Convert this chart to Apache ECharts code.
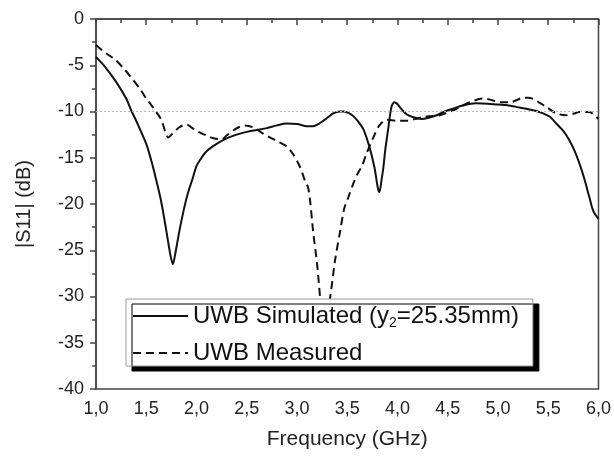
<!DOCTYPE html>
<html>
<head>
<meta charset="utf-8">
<script src="https://cdn.jsdelivr.net/npm/echarts@6/dist/echarts.min.js"></script>
<style>html,body{margin:0;padding:0;background:#fff;}#c{width:614px;height:457px;}</style>
</head>
<body>
<div id="c"></div>
<script>
var xTicks = [1.0,1.5,2.0,2.5,3.0,3.5,4.0,4.5,5.0,5.5,6.0];
var yTicks = [0,-5,-10,-15,-20,-25,-30,-35,-40];
var refLevel = -10;

var freqSim = [1.0,1.1,1.2,1.3,1.355,1.4,1.5,1.55,1.59,1.646,1.70,1.74,1.765,1.79,1.83,1.87,1.91,1.96,2.0,2.05,2.1,2.2,2.3,2.4,2.5,2.6,2.7,2.8,2.9,3.0,3.1,3.16,3.22,3.3,3.36,3.43,3.47,3.52,3.56,3.61,3.66,3.72,3.77,3.805,3.82,3.84,3.86,3.88,3.91,3.94,3.97,4.0,4.02,4.09,4.15,4.24,4.3,4.39,4.47,4.55,4.65,4.78,4.9,5.0,5.08,5.18,5.28,5.38,5.45,5.52,5.58,5.65,5.71,5.76,5.81,5.86,5.91,5.95,6.0];
var s11Sim = [-4.1,-5.3,-6.8,-8.6,-10.0,-11.0,-13.5,-15.3,-17.0,-19.6,-22.9,-25.5,-26.5,-25.3,-22.9,-20.8,-19.0,-17.3,-15.9,-15.0,-14.3,-13.5,-12.9,-12.5,-12.2,-12.0,-11.8,-11.5,-11.3,-11.35,-11.6,-11.6,-11.3,-10.7,-10.2,-10.0,-10.0,-10.2,-10.5,-11.1,-11.9,-13.8,-16.0,-18.3,-18.7,-17.5,-16.0,-14.0,-11.7,-9.5,-9.0,-9.2,-9.5,-10.3,-10.6,-10.8,-10.7,-10.4,-10.0,-9.7,-9.35,-9.1,-9.15,-9.25,-9.3,-9.5,-9.7,-9.95,-10.2,-10.6,-11.3,-12.1,-13.1,-14.2,-15.6,-17.3,-19.3,-20.8,-21.6];

var freqMeas = [1.0,1.04,1.1,1.19,1.28,1.37,1.44,1.5,1.55,1.59,1.65,1.69,1.72,1.76,1.83,1.9,1.96,2.02,2.1,2.17,2.25,2.3,2.36,2.42,2.48,2.56,2.65,2.73,2.82,2.9,2.96,3.03,3.08,3.11,3.13,3.16,3.2,3.23,3.27,3.3,3.33,3.38,3.43,3.47,3.51,3.56,3.6,3.65,3.69,3.76,3.82,3.89,4.0,4.1,4.18,4.25,4.33,4.42,4.55,4.64,4.72,4.85,4.95,5.02,5.12,5.2,5.25,5.3,5.36,5.42,5.48,5.58,5.68,5.75,5.81,5.91,5.96,6.0];
var s11Meas = [-2.8,-3.2,-3.7,-4.4,-5.4,-6.6,-7.6,-8.6,-9.3,-9.9,-10.9,-12.2,-12.8,-12.4,-11.7,-11.4,-11.8,-12.2,-12.6,-12.9,-13.0,-12.6,-12.1,-11.7,-11.5,-11.7,-12.3,-12.8,-13.3,-13.8,-14.6,-16.0,-17.5,-18.2,-19.6,-22.9,-26.5,-30.1,-34.0,-32.0,-30.1,-26.0,-22.9,-20.5,-19.3,-17.8,-16.8,-15.8,-14.6,-12.8,-11.5,-10.9,-11.0,-11.0,-10.8,-10.6,-10.5,-10.4,-9.9,-9.4,-9.0,-8.6,-8.8,-9.0,-9.0,-8.7,-8.5,-8.5,-8.7,-9.1,-9.5,-10.2,-10.4,-10.25,-10.05,-10.05,-10.4,-10.8];

var nameSim = 'UWB Simulated (y2=25.35mm)';
var nameMeas = 'UWB Measured';

function pairs(xs, ys){ return xs.map(function(x,i){ return [x, ys[i]]; }); }

var FONT = '"Liberation Sans", Arial, sans-serif';
var chart = echarts.init(document.getElementById('c'), null, {renderer:'canvas'});
chart.setOption({
  animation: false,
  backgroundColor: '#fff',
  textStyle: {fontFamily: FONT},
  grid: {left: 96, right: 15, top: 19, bottom: 68, show: true, borderColor: '#444', borderWidth: 1.5, backgroundColor: 'transparent'},
  xAxis: {
    type: 'value', min: xTicks[0], max: xTicks[xTicks.length-1], interval: 0.5,
    name: 'Frequency (GHz)', nameLocation: 'middle', nameGap: 40,
    nameTextStyle: {fontSize: 21, color: '#222', fontFamily: FONT},
    axisLine: {lineStyle: {color: '#444', width: 1.5}},
    axisTick: {show: true, inside: false, length: 6, lineStyle: {color: '#444', width: 1.5}},
    minorTick: {show: true, splitNumber: 2, length: 4, lineStyle: {color: '#444', width: 1.5}},
    splitLine: {show: false},
    axisLabel: {fontSize: 18, color: '#222', margin: 11, fontFamily: FONT,
      formatter: function(v){ return v.toFixed(1).replace('.', ','); }}
  },
  yAxis: {
    type: 'value', min: yTicks[yTicks.length-1], max: yTicks[0], interval: 5,
    name: '|S11| (dB)', nameLocation: 'middle', nameGap: 62,
    nameTextStyle: {fontSize: 20, color: '#222', fontFamily: FONT},
    axisLine: {show: true, lineStyle: {color: '#444', width: 1.5}},
    axisTick: {show: true, inside: false, length: 6, lineStyle: {color: '#444', width: 1.5}},
    minorTick: {show: true, splitNumber: 2, length: 4, lineStyle: {color: '#444', width: 1.5}},
    splitLine: {show: false},
    axisLabel: {fontSize: 18, color: '#222', margin: 12, fontFamily: FONT}
  },
  legend: {
    orient: 'vertical', left: 126, top: 299,
    padding: [3, 14, 0, 6], itemGap: 10,
    itemWidth: 55, itemHeight: 14,
    backgroundColor: '#fff', borderColor: '#999', borderWidth: 1,
    shadowColor: '#000', shadowBlur: 0, shadowOffsetX: 6, shadowOffsetY: 5,
    itemStyle: {opacity: 0},
    data: [nameSim, nameMeas],
    formatter: function(n){ return n === nameSim ? 'UWB Simulated (y{sub|2}=25.35mm)' : n; },
    textStyle: {fontSize: 24, color: '#111', fontFamily: FONT, lineHeight: 26,
      rich: {sub: {fontSize: 14, fontFamily: FONT, color: '#111', padding: [14, 0, 0, 0], lineHeight: 26}}}
  },
  series: [
    {
      name: nameSim, type: 'line', data: pairs(freqSim, s11Sim),
      symbol: 'none', smooth: 0.3, color: '#111',
      lineStyle: {color: '#111', width: 2},
      markLine: {silent: true, symbol: 'none', label: {show: false},
        lineStyle: {color: '#bbb', type: [2, 2], width: 1},
        data: [{yAxis: refLevel}]}
    },
    {
      name: nameMeas, type: 'line', data: pairs(freqMeas, s11Meas),
      symbol: 'none', smooth: 0.3, color: '#111',
      lineStyle: {color: '#111', width: 2, type: [8, 5]}
    }
  ]
});
</script>
</body>
</html>
